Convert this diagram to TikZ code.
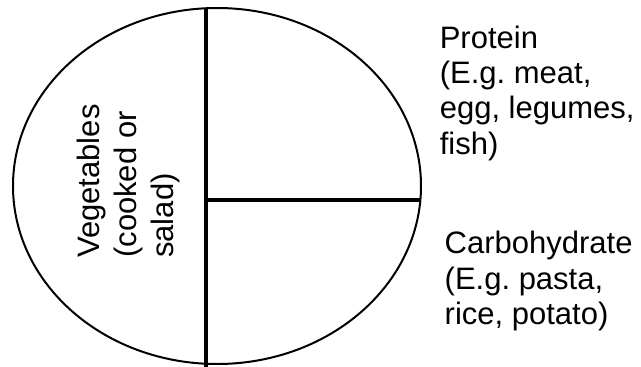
\documentclass[tikz,border=0pt]{standalone}
\usepackage{fontspec}
\setmainfont{Liberation Sans}
\frenchspacing
\begin{document}
\begin{tikzpicture}[x=1pt, y=-1pt,
  divider/.style={line width=4pt},
  foodtext/.style={inner sep=0pt, align=left, anchor=north west,
    font=\fontsize{31pt}{35.3pt}\selectfont}]
\useasboundingbox (0,0) rectangle (641,367);
% Prato
\draw[line width=2pt] (217,186) ellipse [x radius=204, y radius=178];
% Divisorias
\coordinate (top) at (205.5,8.3);
\coordinate (bottom) at (205.5,367);
\coordinate (mid) at (205.5,200);
\coordinate (rim) at (420.4,200);
\draw[divider] (top) -- (bottom);
\draw[divider] (mid) -- (rim);
% Legendas
\node[foodtext, rotate=90, font=\fontsize{31pt}{37pt}\selectfont] (veg) at (77.3,258)
  {Vegetables\\(cooked or\\salad)};
\node[foodtext] (protein) at (439.6,25.5)
  {Protein\\(E.g. meat,\\egg, legumes,\\fish)};
\node[foodtext] (carbs) at (444.5,231.1)
  {Carbohydrate\\(E.g. pasta,\\rice, potato)};
\end{tikzpicture}
\end{document}
